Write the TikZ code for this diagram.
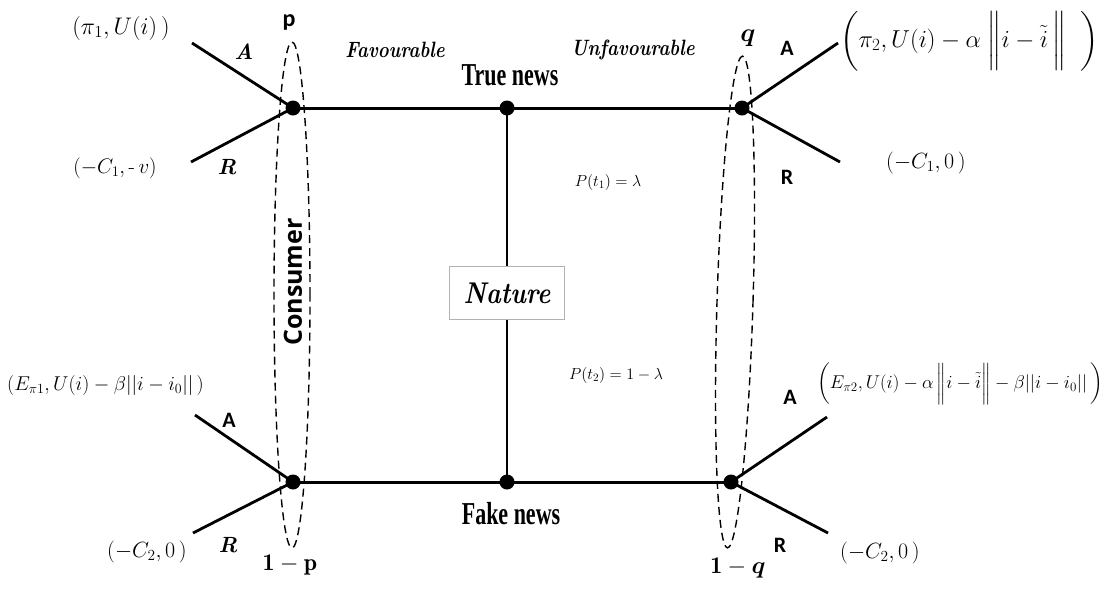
\RequirePackage{fix-cm}
\documentclass[tikz,border=0pt]{standalone}
\usepackage{fontspec}
\usepackage{amsmath}
\usepackage{bm}
\usepackage{graphicx}
\newfontfamily\tnr{Liberation Serif}
\newfontfamily\osans{Open Sans}
\newfontfamily\calb{Carlito}
\newcommand{\fsz}[1]{\fontsize{#1}{#1}\selectfont}
\tikzset{
  dot/.style={circle, fill=black, inner sep=0pt, minimum size=15pt},
  hedge/.style={line width=3pt},
  vedge/.style={line width=2.5pt},
  branch/.style={line width=2.8pt},
  infoset/.style={line width=1.4pt, dash pattern=on 8pt off 5pt},
  lbl/.style={inner sep=0pt},
  natbox/.style={draw=gray!60, fill=white, line width=0.6pt, minimum width=115pt, minimum height=53pt, inner sep=0pt},
}
\begin{document}
\begin{tikzpicture}[x=1pt,y=-1pt]
\fill[white] (0,0) rectangle (1110,603);
\useasboundingbox (0,0) rectangle (1110,603);

% decision nodes
\node[dot] (tl) at (293,108) {};
\node[dot] (tm) at (507,108) {};
\node[dot] (tr) at (742,108) {};
\node[dot] (bl) at (293,482) {};
\node[dot] (bm) at (507,482) {};
\node[dot] (br) at (731,482) {};
\node[natbox] (nat) at (507,293) {\scalebox{1}[1.2]{\fsz{25}\bfseries\itshape Nature}};

% branch ends
\coordinate (tlA) at (192,43);
\coordinate (tlR) at (191,162);
\coordinate (trA) at (838,43);
\coordinate (trR) at (840,162);
\coordinate (blA) at (195,415);
\coordinate (blR) at (193,533);
\coordinate (brA) at (827,417);
\coordinate (brR) at (828,533);

% edges
\draw[hedge] (tl.center) -- (tm.center) -- (tr.center);
\draw[hedge] (bl.center) -- (bm.center) -- (br.center);
\draw[vedge] (tm.center) -- (nat.north);
\draw[vedge] (nat.south) -- (bm.center);
\draw[branch] (tl.center) -- (tlA);
\draw[branch] (tl.center) -- (tlR);
\draw[branch] (tr.center) -- (trA);
\draw[branch] (tr.center) -- (trR);
\draw[branch] (bl.center) -- (blA);
\draw[branch] (bl.center) -- (blR);
\draw[branch] (br.center) -- (brA);
\draw[branch] (br.center) -- (brR);

% information sets
\draw[infoset] (292,295) ellipse [x radius=18pt, y radius=253pt];
\draw[infoset, rotate around={-1.75:(735,302)}] (735,302) ellipse [x radius=18pt, y radius=246pt];

% top-left labels
\node[lbl] (pay1) at (121,28) {\fsz{24}$(\pi_1, U(i)\,)$};
\node[lbl] (pay2) at (115,168) {\fsz{21}$(-C_1,\text{-}\,v)$};
\node[lbl] (la1) at (244,52) {\fsz{22}\bfseries\itshape A};
\node[lbl] (lr1) at (227,167) {\fsz{22}\bfseries\itshape R};
\node[lbl] (pp) at (289,22) {\calb\bfseries\fsz{24}p};
\node[lbl, rotate=90] (cons) at (293,282) {\osans\bfseries\fsz{25}Consumer};
\node[lbl] (omp) at (290,565) {\fsz{24}$\mathbf{1}-\mathbf{p}$};

% top-right labels
\node[lbl] (qq) at (748,38) {\fsz{26}$\boldsymbol{q}$};
\node[lbl] (ra1) at (787,48) {\calb\bfseries\fsz{22}A};
\node[lbl] (rr1) at (787,177) {\calb\bfseries\fsz{22}R};
\node[lbl, anchor=west] (pay3) at (840,41) {\fsz{24.5}$\biggl(\pi_2, U(i) - \alpha\;\biggl\| i - \tilde{i}\,\biggr\|\ \ \biggr)$};
\node[lbl] (pay4) at (926,163) {\fsz{22}$(-C_1,0\,)$};
\node[lbl] (omq) at (738,568) {\fsz{24}$\mathbf{1}-\boldsymbol{q}$};

% middle labels
\node[lbl] (fav) at (395,50) {\scalebox{1}[1.2]{\fsz{18.5}\bfseries\itshape Favourable}};
\node[lbl] (unfav) at (633,50) {\scalebox{1}[1.2]{\fsz{18.5}\bfseries\itshape Unfavourable}};
\node[lbl] (truen) at (510,75) {\scalebox{1}[1.45]{\tnr\bfseries\fsz{22}True news}};
\node[lbl] (fake) at (511,514) {\scalebox{1}[1.45]{\tnr\bfseries\fsz{22}Fake news}};
\node[lbl] (pt1) at (608,182) {\fsz{16}$P(t_1) = \lambda$};
\node[lbl] (pt2) at (616,375) {\fsz{16}$P(t_2) = 1 - \lambda$};

% bottom-left labels
\node[lbl, anchor=west] (pay5) at (7,385) {\fsz{20}$(E_{\pi1}, U(i) - \beta||i-i_0||\,)$};
\node[lbl] (la2) at (229,420) {\calb\bfseries\fsz{22}A};
\node[lbl] (lr2) at (228,545) {\fsz{22}\bfseries\itshape R};
\node[lbl] (pay6) at (147,552) {\fsz{22}$(-C_2,0\,)$};

% bottom-right labels
\node[lbl, anchor=west] (pay7) at (817,384) {\fsz{18.5}$\biggl(E_{\pi2}, U(i) - \alpha\,\biggl\| i-\tilde{i}\biggr\| - \beta||i-i_0||\,\biggr)$};
\node[lbl] (ra2) at (790,397) {\calb\bfseries\fsz{22}A};
\node[lbl] (rr2) at (780,545) {\calb\bfseries\fsz{22}R};
\node[lbl] (pay8) at (880,553) {\fsz{22}$(-C_2,0\,)$};
\end{tikzpicture}
\end{document}
